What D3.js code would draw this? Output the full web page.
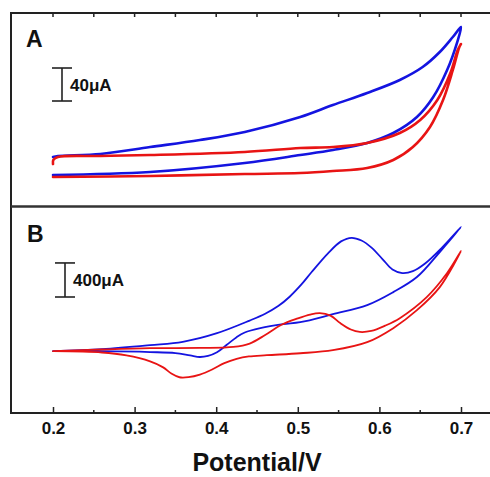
<!DOCTYPE html>
<html>
<head>
<meta charset="utf-8">
<script src="https://cdn.jsdelivr.net/npm/d3@7"></script>
<style>
  body { margin: 0; background: #fff; }
  svg { display: block; }
  text { font-family: "Liberation Sans", Arial, sans-serif; fill: #111; }
</style>
</head>
<body>
<svg id="chart" width="490" height="477"></svg>
<script>
// potentials (V) and currents (uA)
const majorTicks = [0.2, 0.3, 0.4, 0.5, 0.6, 0.7];
const minorTicks = [0.25, 0.35, 0.45, 0.55, 0.65];

const blueA_E = [0.2, 0.319, 0.435, 0.503, 0.543, 0.585, 0.617, 0.646, 0.666, 0.683, 0.695, 0.7,
  0.69, 0.674, 0.653, 0.625, 0.585, 0.543, 0.503, 0.435, 0.38, 0.319, 0.258, 0.206, 0.2];
const blueA_I = [0, 3.6, 14.5, 24.2, 30.3, 38.8, 50.9, 70.3, 94.5, 127.3, 160, 179.4,
  167.3, 149.1, 130.9, 115.2, 99.4, 84.8, 70.3, 52.1, 42.4, 33.9, 25.5, 23, 21.8];

const redA_E = [0.2, 0.2005, 0.206, 0.258, 0.319, 0.435, 0.503, 0.543, 0.585, 0.625, 0.65, 0.671, 0.687, 0.696, 0.7,
  0.698, 0.69, 0.678, 0.662, 0.641, 0.617, 0.585, 0.543, 0.503, 0.435, 0.319, 0.2];
const redA_I = [13.3, 18.5, 21.8, 23, 24.2, 27.9, 32.7, 33.9, 38.8, 50.9, 66.7, 90.9, 123.6, 151.5, 158.8,
  155.2, 127.3, 90.9, 58.2, 33.9, 18.2, 8.5, 4.8, 2.4, 1.2, -1.2, -2.4];

const blueB_E = [0.2, 0.26, 0.319, 0.359, 0.401, 0.441, 0.46, 0.476, 0.49, 0.505, 0.517, 0.537, 0.553, 0.566, 0.578, 0.59, 0.604, 0.616, 0.628, 0.641, 0.656, 0.677, 0.7,
  0.674, 0.646, 0.617, 0.585, 0.543, 0.503, 0.482, 0.454, 0.435, 0.425, 0.413, 0.401, 0.39, 0.38, 0.368, 0.35, 0.319, 0.26, 0.2];
const blueB_I = [0, 24, 71, 110, 212, 360, 440, 530, 640, 790, 930, 1150, 1290, 1332, 1300, 1220, 1080, 960, 918, 940, 1030, 1220, 1459,
  1165, 871, 694, 541, 435, 341, 318, 271, 220, 165, 75, -12, -55, -68, -50, -22, -10, 0, 0];

const redB_E = [0.2, 0.26, 0.319, 0.38, 0.421, 0.441, 0.46, 0.48, 0.5, 0.515, 0.527, 0.54, 0.552, 0.565, 0.576, 0.59, 0.607, 0.625, 0.658, 0.683, 0.7,
  0.674, 0.646, 0.617, 0.585, 0.543, 0.503, 0.462, 0.44, 0.425, 0.41, 0.395, 0.38, 0.366, 0.355, 0.345, 0.335, 0.319, 0.29, 0.26, 0.2];
const redB_I = [0, 20, 35, 38, 50, 90, 190, 310, 385, 430, 447, 418, 330, 255, 226, 238, 300, 388, 635, 918, 1176,
  753, 482, 271, 106, 12, -24, -47, -62, -90, -140, -215, -275, -305, -306, -262, -190, -120, -50, -15, 0];

const scaleBarA = 40;   // uA
const scaleBarB = 400;  // uA

const BLUE = "#1414e0";
const RED = "#e81414";

const svg = d3.select("#chart");

const frame = { left: 11, right: 492, top: 13, mid: 206.5, bottom: 413 };

const x = d3.scaleLinear().domain([0.2, 0.7]).range([53, 461]);
const yA = d3.scaleLinear().domain([-38.2, 196.4]).range([frame.mid, frame.top]);
const yB = d3.scaleLinear().domain([-726, 1700]).range([frame.bottom, frame.mid]);

const zip = (E, I) => E.map((e, i) => [e, I[i]]);

function drawTrace(y, E, I, color, width) {
  const line = d3.line()
    .x((d) => x(d[0]))
    .y((d) => y(d[1]))
    .curve(d3.curveCatmullRom.alpha(0.5));
  svg.append("path")
    .datum(zip(E, I))
    .attr("d", line)
    .attr("fill", "none")
    .attr("stroke", color)
    .attr("stroke-width", width)
    .attr("stroke-linejoin", "round")
    .attr("stroke-linecap", "round");
}

// traces
drawTrace(yA, blueA_E, blueA_I, BLUE, 2.6);
drawTrace(yA, redA_E, redA_I, RED, 2.6);
drawTrace(yB, blueB_E, blueB_I, BLUE, 1.8);
drawTrace(yB, redB_E, redB_I, RED, 1.8);

// frame lines
const frameGrp = svg.append("g").attr("stroke", "#222").attr("stroke-width", 2);
frameGrp.append("line").attr("x1", frame.left).attr("x2", frame.left).attr("y1", frame.top - 1).attr("y2", frame.bottom + 1);
frameGrp.append("line").attr("x1", frame.left).attr("x2", frame.right).attr("y1", frame.top).attr("y2", frame.top);
frameGrp.append("line").attr("x1", frame.left).attr("x2", frame.right).attr("y1", frame.mid).attr("y2", frame.mid)
  .attr("stroke-width", 2.6).attr("stroke", "#333");
frameGrp.append("line").attr("x1", frame.left).attr("x2", frame.right).attr("y1", frame.bottom).attr("y2", frame.bottom);

// ticks on top of panel A (inward)
svg.append("g")
  .selectAll("line")
  .data(majorTicks.concat(minorTicks))
  .join("line")
  .attr("x1", (d) => x(d)).attr("x2", (d) => x(d))
  .attr("y1", frame.top).attr("y2", frame.top + 4)
  .attr("stroke", "#222").attr("stroke-width", 1.5);

// bottom axis
const xAxis = d3.axisBottom(x)
  .tickValues(majorTicks)
  .tickSizeInner(-6)
  .tickSizeOuter(0)
  .tickPadding(9)
  .tickFormat(d3.format(".1f"));

const axisG = svg.append("g")
  .attr("transform", `translate(0,${frame.bottom})`)
  .call(xAxis);
axisG.select(".domain").remove();
axisG.selectAll(".tick line").attr("stroke", "#222").attr("stroke-width", 1.5);
axisG.selectAll(".tick text")
  .attr("fill", "#111")
  .style("font-size", "17px")
  .style("font-weight", "bold")
  .style("font-family", "'Liberation Sans', Arial, sans-serif");

svg.append("g")
  .selectAll("line")
  .data(minorTicks)
  .join("line")
  .attr("x1", (d) => x(d)).attr("x2", (d) => x(d))
  .attr("y1", frame.bottom).attr("y2", frame.bottom - 3)
  .attr("stroke", "#222").attr("stroke-width", 1.5);

// axis title
svg.append("text")
  .attr("x", 257)
  .attr("y", 471)
  .attr("text-anchor", "middle")
  .style("font-size", "25px")
  .style("font-weight", "bold")
  .text("Potential/V");

// panel letters
svg.append("text").attr("x", 26).attr("y", 47)
  .style("font-size", "23px").style("font-weight", "bold").text("A");
svg.append("text").attr("x", 27).attr("y", 242)
  .style("font-size", "23px").style("font-weight", "bold").text("B");

// scale bars
function scaleBar(y, value, cx, yBottom, label) {
  const len = y(0) - y(value);
  const g = svg.append("g").attr("stroke", "#222").attr("stroke-width", 1.6);
  g.append("line").attr("x1", cx).attr("x2", cx).attr("y1", yBottom).attr("y2", yBottom - len);
  g.append("line").attr("x1", cx - 10).attr("x2", cx + 10).attr("y1", yBottom).attr("y2", yBottom);
  g.append("line").attr("x1", cx - 10).attr("x2", cx + 10).attr("y1", yBottom - len).attr("y2", yBottom - len);
  svg.append("text")
    .attr("x", cx + 8)
    .attr("y", yBottom - len / 2 + 6)
    .style("font-size", "17px")
    .style("font-weight", "bold")
    .text(label);
}
scaleBar(yA, scaleBarA, 62, 101, "40μA");
scaleBar(yB, scaleBarB, 65, 297, "400μA");
</script>
</body>
</html>
